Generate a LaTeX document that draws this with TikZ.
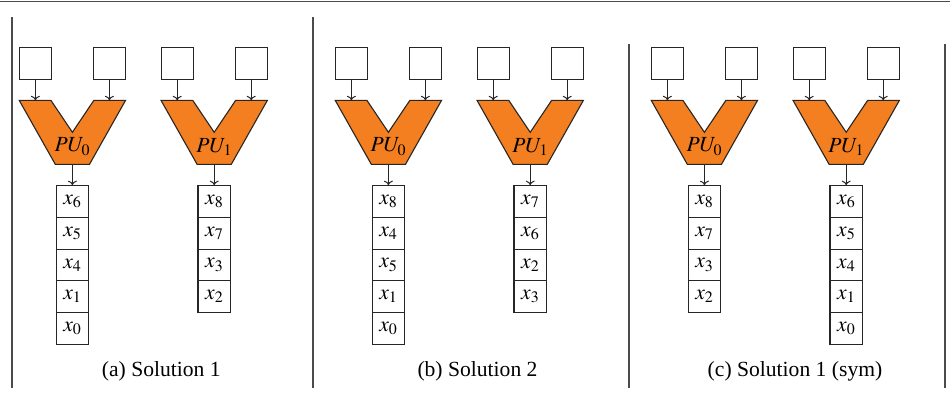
\documentclass[tikz,border=0pt]{standalone}
\usepackage{mathptmx}
\usepackage{fontspec}
\setmainfont{Liberation Serif}
\usetikzlibrary{arrows.meta}
\definecolor{puorange}{RGB}{244,127,32}
\definecolor{linegray}{RGB}{75,75,75}
\tikzset{
  inbox/.style={draw=black!85, line width=1.1pt, minimum width=32pt, minimum height=32pt, inner sep=0pt},
  outbox/.style={draw=black!85, line width=1.1pt, minimum width=32.5pt, minimum height=31.7pt, inner sep=0pt, font=\fontsize{21.6}{26}\selectfont},
  pushape/.style={fill=puorange, draw=black!85, line width=1.1pt, line join=miter},
  arr/.style={-{To[length=4.5pt,width=9pt]}, line width=1pt, draw=black!85},
  sep/.style={draw=linegray, line width=1.4pt},
  lbl/.style={inner sep=0pt, font=\fontsize{21.6}{26}\selectfont}
}
\newcommand{\punit}[4]{%
  \node[inbox] (#1i1) at (#2-37,63.5) {};
  \node[inbox] (#1i2) at (#2+37,63.5) {};
  \path[pushape] (#2-53.2,100.3) -- (#2-21.5,100.3) -- (#2,132.3) -- (#2+21.5,100.3)
     -- (#2+53.2,100.3) -- (#2+17.1,164.3) -- (#2-17.1,164.3) -- cycle;
  \coordinate (#1t1) at (#2-37,100.3);
  \coordinate (#1t2) at (#2+37,100.3);
  \coordinate (#1b) at (#2,164.3);
  \node[lbl] (#1pu) at (#2,146.7) {$PU_{#3}$};
  \foreach \v [count=\k from 0] in {#4} {
    \node[outbox] (#1o\k) at (#2,201.55+31.7*\k) {$x_{\v}$};
  }
  \draw[arr] (#1i1) -- (#1t1);
  \draw[arr] (#1i2) -- (#1t2);
  \draw[arr] (#1b) -- (#1o0);
}
\begin{document}
\begin{tikzpicture}[x=1pt,y=-1pt]
  \useasboundingbox (0,0) rectangle (950,400);
  \draw[linegray, line width=1.6pt] (0,1.5) -- (950,1.5);
  \draw[sep] (12,17.3) -- (12,387.5);
  \draw[sep] (312.8,17.3) -- (312.8,387.5);
  \draw[sep] (628.8,44.3) -- (628.8,387.5);
  \draw[sep] (945,44.3) -- (945,387.5);
  % panel a
  \punit{a0}{72.4}{0}{6,5,4,1,0}
  \punit{a1}{214.2}{1}{8,7,3,2}
  \node[lbl] (capa) at (161.3,371.7) {(a) Solution 1};
  % panel b
  \punit{b0}{388.4}{0}{8,4,5,1,0}
  \punit{b1}{530.2}{1}{7,6,2,3}
  \node[lbl] (capb) at (477.5,371.7) {(b) Solution 2};
  % panel c
  \punit{c0}{704.4}{0}{8,7,3,2}
  \punit{c1}{846.2}{1}{6,5,4,1,0}
  \node[lbl] (capc) at (795,371.7) {(c) Solution 1 (sym)};
\end{tikzpicture}
\end{document}
